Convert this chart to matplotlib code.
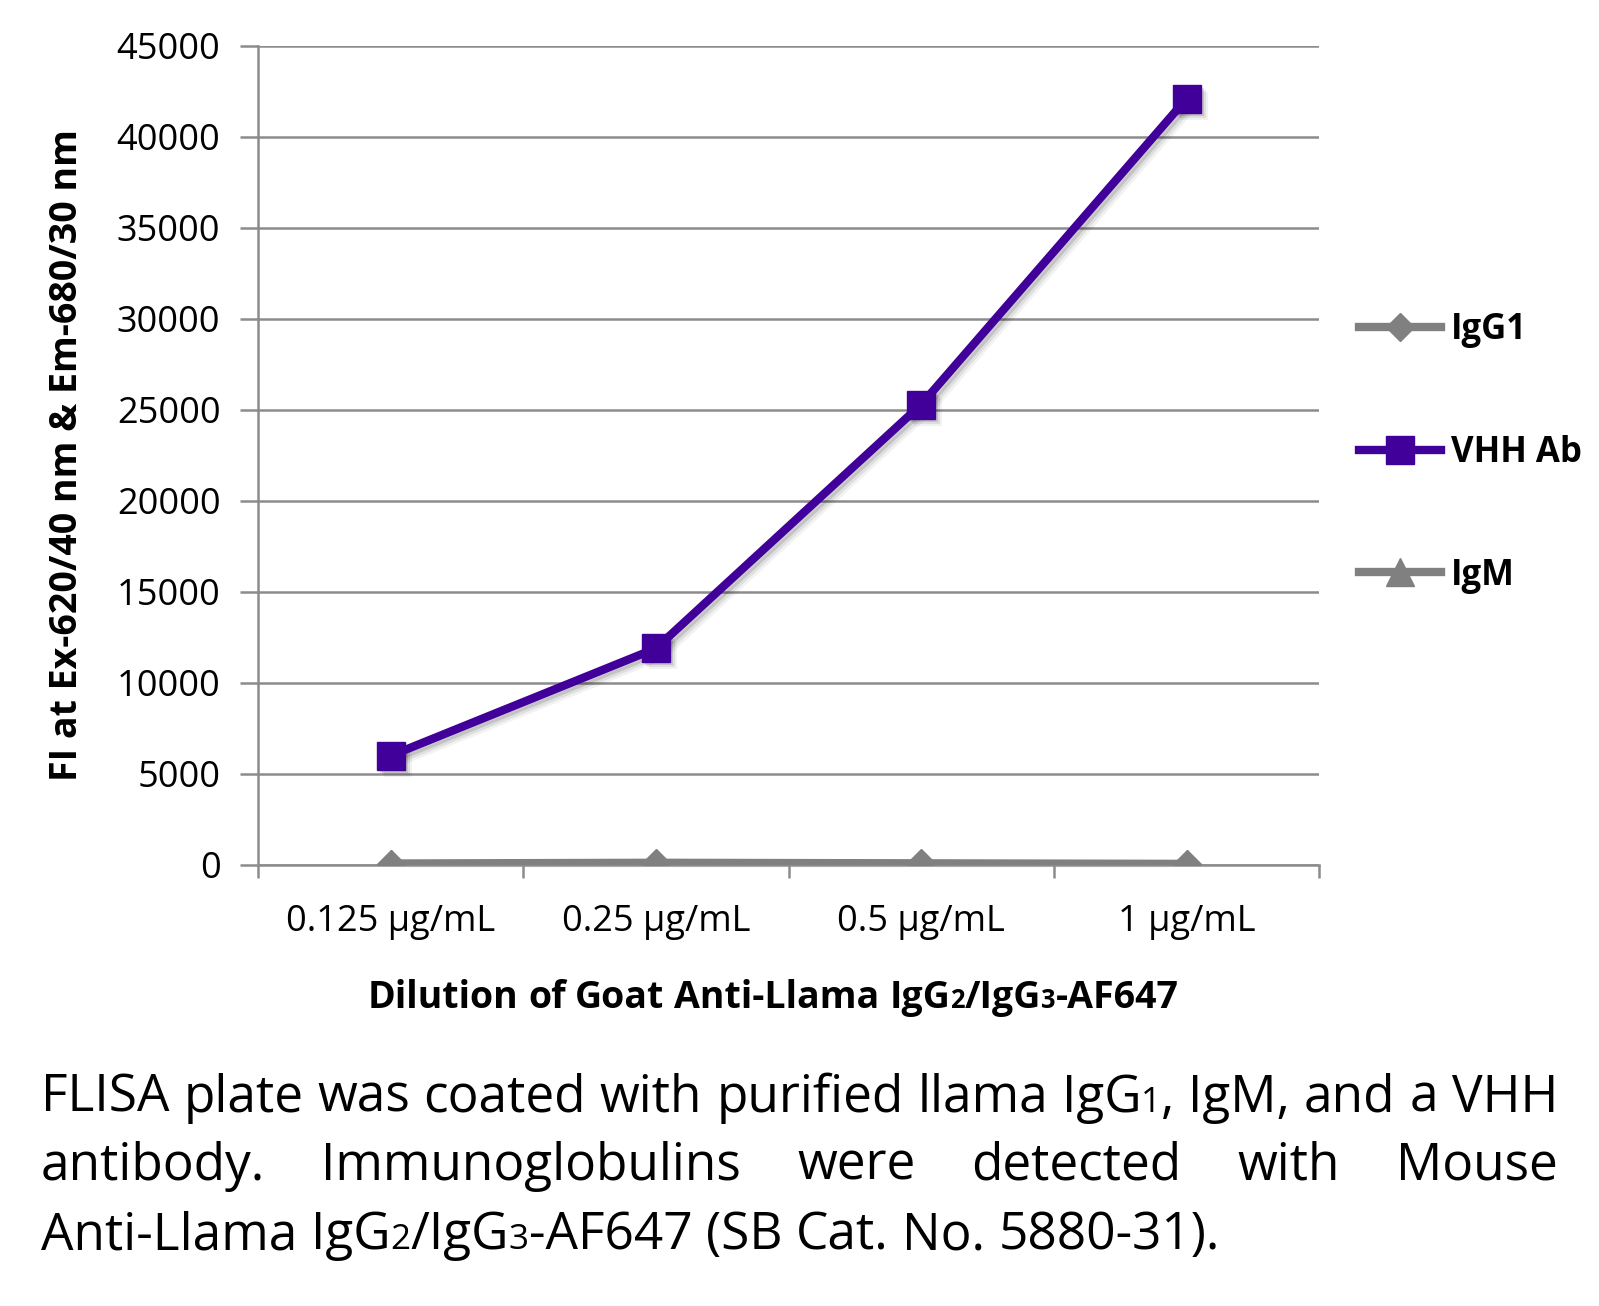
import re
import matplotlib
matplotlib.use("Agg")
import matplotlib.pyplot as plt
import matplotlib.transforms as mtransforms

plt.rcParams['font.family'] = ['Open Sans', 'DejaVu Sans']

categories = ['0.125 µg/mL', '0.25 µg/mL', '0.5 µg/mL', '1 µg/mL']
igg1 = [80, 120, 90, 60]
vhh = [6000, 11900, 25300, 42100]
igm = [40, 60, 50, 30]
yticks = [0, 5000, 10000, 15000, 20000, 25000, 30000, 35000, 40000, 45000]

gray = '#808080'
purple = '#400099'

fig = plt.figure(figsize=(15.99, 13.06), dpi=100)
ax = fig.add_axes([0.1613, 0.3377, 0.6637, 0.6271])

x = list(range(len(categories)))
# soft drop shadow, drawn as offset copies of the series
for dx, a in [(3, 0.12), (5, 0.08), (7, 0.05)]:
    sh = mtransforms.offset_copy(ax.transData, fig=fig, x=dx, y=-dx, units='dots')
    for ys, m, ms in [(igg1, 'D', 14), (vhh, 's', 20), (igm, '^', 20)]:
        ax.plot(x, ys, color='black', alpha=a, lw=6, marker=m, ms=ms, mew=0,
                transform=sh, zorder=2)

lines = []
lines += ax.plot(x, igg1, color=gray, lw=6, marker='D', ms=14, label='IgG1', zorder=3)
lines += ax.plot(x, vhh, color=purple, lw=6, marker='s', ms=20, label='VHH Ab', zorder=4)
lines += ax.plot(x, igm, color=gray, lw=6, marker='^', ms=20, label='IgM', zorder=3)

ax.set_xlim(-0.5, 3.5)
ax.set_ylim(0, 45000)
ax.set_yticks(yticks)
ax.set_yticklabels([str(v) for v in yticks], fontsize=26)
ax.yaxis.grid(True, color='#8c8c8c', lw=1.8)
ax.set_axisbelow(True)
ax.tick_params(axis='y', length=13, width=1.8, color='#8c8c8c', pad=14)
ax.set_xticks(x)
ax.set_xticklabels(categories, fontsize=26)
ax.set_xticks([-0.5, 0.5, 1.5, 2.5, 3.5], minor=True)
ax.tick_params(axis='x', which='major', length=0, pad=28)
ax.tick_params(axis='x', which='minor', length=9, width=1.8, color='#8c8c8c')
for s in ['top', 'right']:
    ax.spines[s].set_visible(False)
for s in ['left', 'bottom']:
    ax.spines[s].set_color('#8c8c8c')
    ax.spines[s].set_linewidth(1.8)

ax.set_ylabel('FI at Ex-620/40 nm & Em-680/30 nm', fontsize=27, fontweight='bold', labelpad=22)

leg = fig.legend(handles=lines, loc='upper left', bbox_to_anchor=(0.8305, 0.785),
                 frameon=False, prop={'weight': 'bold', 'size': 25},
                 handlelength=2.35, handletextpad=0.3, labelspacing=2.5)

fig.canvas.draw()
renderer = fig.canvas.get_renderer()
W = fig.bbox.width
H = fig.bbox.height


def parse(word):
    # digits in braces are drawn small
    runs = []
    for part in re.split(r'(\{[^}]*\})', word):
        if not part:
            continue
        if part.startswith('{'):
            runs.append((part[1:-1], True))
        else:
            runs.append((part, False))
    return runs


def width_of(s, size, weight):
    t = fig.text(0, 0, s, fontsize=size, fontweight=weight)
    w = t.get_window_extent(renderer=renderer).width
    t.remove()
    return w


def draw_line(line, y, size, weight='normal', x0=None, x1=None, align='left', small=0.68):
    words = [parse(w) for w in line.split(' ')]
    widths = []
    for wd in words:
        widths.append(sum(width_of(s, size * small if sm else size, weight) for s, sm in wd))
    space = width_of('x x', size, weight) - width_of('xx', size, weight)
    if align == 'justify':
        gap = (x1 - x0 - sum(widths)) / (len(words) - 1)
        start = x0
    else:
        gap = space
        total = sum(widths) + gap * (len(words) - 1)
        start = x0 if align == 'left' else x0 - total / 2
    cx = start
    for wd, w in zip(words, widths):
        px = cx
        for s, sm in wd:
            sz = size * small if sm else size
            fig.text(px / W, y / H, s, fontsize=sz, fontweight=weight, va='baseline', ha='left')
            px += width_of(s, sz, weight)
        cx += w + gap


draw_line('Dilution of Goat Anti-Llama IgG{2}/IgG{3}-AF647', H - 1008, 27, weight='bold',
          x0=773, align='center')

cap_size = 37
draw_line('FLISA plate was coated with purified llama IgG{1}, IgM, and a VHH', H - 1112, cap_size,
          x0=41, x1=1558, align='justify')
draw_line('antibody. Immunoglobulins were detected with Mouse', H - 1180, cap_size,
          x0=41, x1=1558, align='justify')
draw_line('Anti-Llama IgG{2}/IgG{3}-AF647 (SB Cat. No. 5880-31).', H - 1249, cap_size,
          x0=41, align='left')

fig.savefig('out.png', dpi=100)
